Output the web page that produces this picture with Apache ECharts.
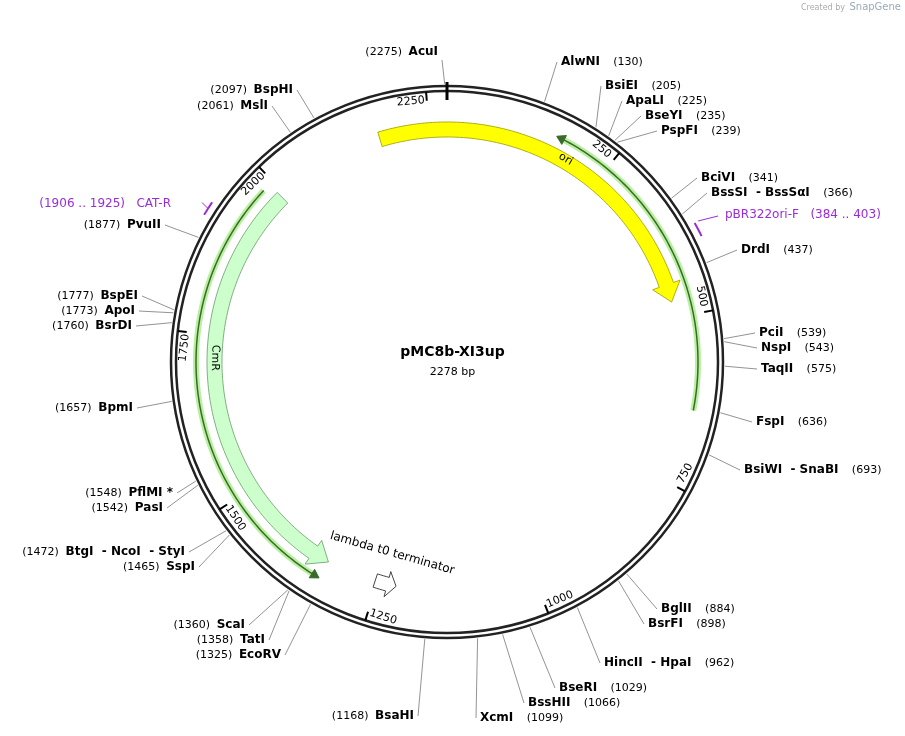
<!DOCTYPE html>
<html><head><meta charset="utf-8">
<script src="https://cdn.jsdelivr.net/npm/echarts@6/dist/echarts.min.js"></script>
<style>html,body{margin:0;padding:0;background:#fff}#c{width:905px;height:736px}</style>
</head><body><div id="c"></div>
<script>
const plasmidName = 'pMC8b-XI3up';
const plasmidLen = 2278;
const tickLabels = [250,500,750,1000,1250,1500,1750,2000,2250];
// cut sites: name, position
const siteNames = ['AlwNI','BsiEI','ApaLI','BseYI','PspFI','BciVI','BssSI  - BssSαI','DrdI','PciI','NspI','TaqII','FspI','BsiWI  - SnaBI','BglII','BsrFI','HincII  - HpaI','BseRI','BssHII','XcmI','BsaHI','EcoRV','TatI','ScaI','SspI','BtgI  - NcoI  - StyI','PasI','PflMI *','BpmI','BsrDI','ApoI','BspEI','PvuII','MslI','BspHI','AcuI'];
const sitePos = [130,205,225,235,239,341,366,437,539,543,575,636,693,884,898,962,1029,1066,1099,1168,1325,1358,1360,1465,1472,1542,1548,1657,1760,1773,1777,1877,2061,2097,2275];
// label anchor layout (pixels), kept separate from data
const siteLayout = [[561,62],[605,86],[626,101],[645,116],[661,131],[701,178],[711,193],[741,250],[759,333],[761,348],[761,369],[756,422],[744,470],[661,609],[648,624],[604,663],[559,688],[528,703],[480,718],[414,716],[281,655],[265,640],[245,625],[195,567],[185,552],[163,508],[173,493],[133,408],[132,326],[135,311],[138,296],[161,225],[268,106],[293,90],[438,52]];
// features
const featNames = ['ori-yellow','CmR','lambda t0 terminator'];
const featStart = [2172,1993,1254];
const featEnd = [475,1333,1220];
const greenNames = ['ori','CmR'];
const greenStart = [640,1981];
const greenEnd = [164,1333];
const primerNames = ['CAT-R','pBR322ori-F'];
const primerStart = [1906,384];
const primerEnd = [1925,403];

const chart = echarts.init(document.getElementById('c'));
const R = 277;
function norm(p){return ((p%plasmidLen)+plasmidLen)%plasmidLen;}
function C(api,r,p){return api.coord([r,norm(p)]);}
function ang(p){return norm(p)/plasmidLen*360;}
function band(api,s,e,r1,r2,head,hr1,hr2){
  const dir = e>s?1:-1, L=Math.abs(e-s); const be = s+dir*Math.max(L-head,0);
  const pts=[]; const n=Math.max(4,Math.round(Math.abs(be-s)/6));
  for(let i=0;i<=n;i++) pts.push(C(api,r2,s+(be-s)*i/n));
  if(head>0){pts.push(C(api,hr2,be)); pts.push(C(api,(r1+r2)/2,e)); pts.push(C(api,hr1,be));}
  for(let i=n;i>=0;i--) pts.push(C(api,r1,s+(be-s)*i/n));
  return pts;
}
function arcPts(api,s,e,r){const pts=[];const n=Math.max(4,Math.round(Math.abs(e-s)/5));for(let i=0;i<=n;i++)pts.push(C(api,r,s+(e-s)*i/n));return pts;}
const font = 'Verdana, "DejaVu Sans", sans-serif';

function unwrap(s,e,dirHint){ if(dirHint>0 && e<s) return [s-plasmidLen,e]; return [s,e]; }

const option = {
  animation:false,
  polar:{center:[447,362],radius:R},
  angleAxis:{type:'value',min:0,max:plasmidLen,startAngle:90,clockwise:true,show:false,splitLine:{show:false},axisLine:{show:false}},
  radiusAxis:{type:'value',min:0,max:R,show:false,splitLine:{show:false},axisLine:{show:false}},
  graphic:[
    {type:'text',left:'center',top:345,style:{text:plasmidName,font:'bold 14px '+font,fill:'#000'}},
    {type:'text',left:'center',top:367,style:{text:plasmidLen+' bp',font:'11px '+font,fill:'#000'}},
    {type:'text',right:60,top:4,style:{text:'Created by',font:'8px '+font,fill:'#aaa'}},
    {type:'text',right:4,top:2,style:{text:'SnapGene',font:'10px '+font,fill:'#9ab'}}
  ],
  series:[
    {type:'custom',coordinateSystem:'polar',data:[[0,0]],renderItem:function(p,api){
      const c=C(api,0,0); const ch=[];
      ch.push({type:'circle',shape:{cx:c[0],cy:c[1],r:276},style:{fill:'none',stroke:'#222',lineWidth:2.5}});
      ch.push({type:'circle',shape:{cx:c[0],cy:c[1],r:271},style:{fill:'none',stroke:'#222',lineWidth:2.5}});
      const a=C(api,262,0), b=C(api,280,0);
      ch.push({type:'line',shape:{x1:a[0],y1:a[1],x2:b[0],y2:b[1]},style:{stroke:'#000',lineWidth:3}});
      tickLabels.forEach(t=>{
        const p1=C(api,262,t),p2=C(api,271,t);
        ch.push({type:'line',shape:{x1:p1[0],y1:p1[1],x2:p2[0],y2:p2[1]},style:{stroke:'#000',lineWidth:2}});
        const th=ang(t); const tp=C(api,263,t-22);
        let rot = (th<90||th>270)? -th : -(th-180);
        ch.push({type:'text',x:tp[0],y:tp[1],rotation:rot*Math.PI/180,style:{text:String(t),font:'11px '+font,fill:'#000',align:'center',verticalAlign:'middle'}});
      });
      return {type:'group',children:ch};
    }},
    {type:'custom',coordinateSystem:'polar',data:featNames.map((n,i)=>[i]),renderItem:function(p,api){
      const i=p.dataIndex; const ch=[];
      if(i===0){const [s,e]=unwrap(featStart[0],featEnd[0],1);
        ch.push({type:'polygon',shape:{points:band(api,s,e,225,240,28,218,247)},style:{fill:'#ffff00',stroke:'#9a9a00',lineWidth:0.8}});}
      if(i===1){ch.push({type:'polygon',shape:{points:band(api,featStart[1],featEnd[1],225,240,28,218,247)},style:{fill:'#ccffcc',stroke:'#6a9a6a',lineWidth:0.8}});
        const tp=C(api,232,1715); ch.push({type:'text',x:tp[0],y:tp[1],rotation:-(ang(1715)-180)*Math.PI/180,style:{text:'CmR',font:'11px '+font,fill:'#000',align:'center',verticalAlign:'middle'}});}
      if(i===2){ch.push({type:'polygon',shape:{points:band(api,featStart[2],featEnd[2],223,237,14,217,243)},style:{fill:'#fff',stroke:'#444',lineWidth:1}});
        const tp=C(api,199,1240); ch.push({type:'text',x:tp[0],y:tp[1],rotation:-(ang(1240)-180)*Math.PI/180,style:{text:'lambda t0 terminator',font:'12px '+font,fill:'#000',align:'center',verticalAlign:'middle'}});}
      return {type:'group',children:ch};
    }},
    {type:'custom',coordinateSystem:'polar',data:greenNames.map((n,i)=>[i]),renderItem:function(p,api){
      const i=p.dataIndex; const s=greenStart[i], e=greenEnd[i]; const dir=e>s?1:-1; const ch=[];
      const pts=arcPts(api,s,e-dir*6,251);
      ch.push({type:'polyline',shape:{points:pts},style:{stroke:'#b8f0a0',lineWidth:6,fill:'none'}});
      ch.push({type:'polyline',shape:{points:pts},style:{stroke:'#3a6a2a',lineWidth:1.5,fill:'none'}});
      ch.push({type:'polygon',shape:{points:[C(api,256,e-dir*12),C(api,251,e),C(api,246,e-dir*12)]},style:{fill:'#3a6a2a',stroke:'#3a6a2a'}});
      if(i===0){const tp=C(api,235,192); ch.push({type:'text',x:tp[0],y:tp[1],rotation:-ang(192)*Math.PI/180,style:{text:'ori',font:'11px '+font,fill:'#000',align:'center',verticalAlign:'middle'}});}
      return {type:'group',children:ch};
    }},
    {type:'custom',coordinateSystem:'polar',data:primerNames.map((n,i)=>[i]),renderItem:function(p,api){
      const i=p.dataIndex; const ch=[]; const col='#9a2bd9';
      ch.push({type:'polyline',shape:{points:arcPts(api,primerStart[i],primerEnd[i],284)},style:{stroke:col,lineWidth:2,fill:'none'}});
      const m=(primerStart[i]+primerEnd[i])/2; const a=C(api,284,m);
      if(i===0){
        ch.push({type:'line',shape:{x1:a[0],y1:a[1],x2:a[0]-6,y2:a[1]-6},style:{stroke:col,lineWidth:1}});
        ch.push({type:'text',x:171,y:204,style:{text:'('+primerStart[i]+' .. '+primerEnd[i]+')   '+primerNames[i],font:'12px '+font,fill:col,align:'right',verticalAlign:'middle'}});
      } else {
        ch.push({type:'polyline',shape:{points:[C(api,288,primerStart[i]),[718,216]]},style:{stroke:col,lineWidth:1,fill:'none'}});
        ch.push({type:'text',x:725,y:215,style:{text:primerNames[i]+'   ('+primerStart[i]+' .. '+primerEnd[i]+')',font:'12px '+font,fill:col,align:'left',verticalAlign:'middle'}});
      }
      return {type:'group',children:ch};
    }},
    {type:'custom',coordinateSystem:'polar',data:sitePos.map((v,i)=>[R,v]),renderItem:function(p,api){
      const i=p.dataIndex; const pos=sitePos[i]; const [lx,ly]=siteLayout[i]; const th=ang(pos);
      const right = th<180; const a=C(api,278,pos);
      const ex = right? lx-4 : lx+4; const ey = ly+ (th<20||th>340? 8:0);
      const ch=[{type:'line',shape:{x1:a[0],y1:a[1],x2:ex,y2:ey},style:{stroke:'#777',lineWidth:0.8}}];
      const rich={b:{font:'bold 12px '+font,fill:'#000'},n:{font:'11px '+font,fill:'#000'}};
      const txt = right ? '{b|'+siteNames[i]+'}    {n|('+pos+')}' : '{n|('+pos+')}  {b|'+siteNames[i]+'}';
      ch.push({type:'text',x:lx,y:ly,style:{text:txt,rich:rich,align:right?'left':'right',verticalAlign:'middle'}});
      return {type:'group',children:ch};
    }}
  ]
};
chart.setOption(option);
</script></body></html>
